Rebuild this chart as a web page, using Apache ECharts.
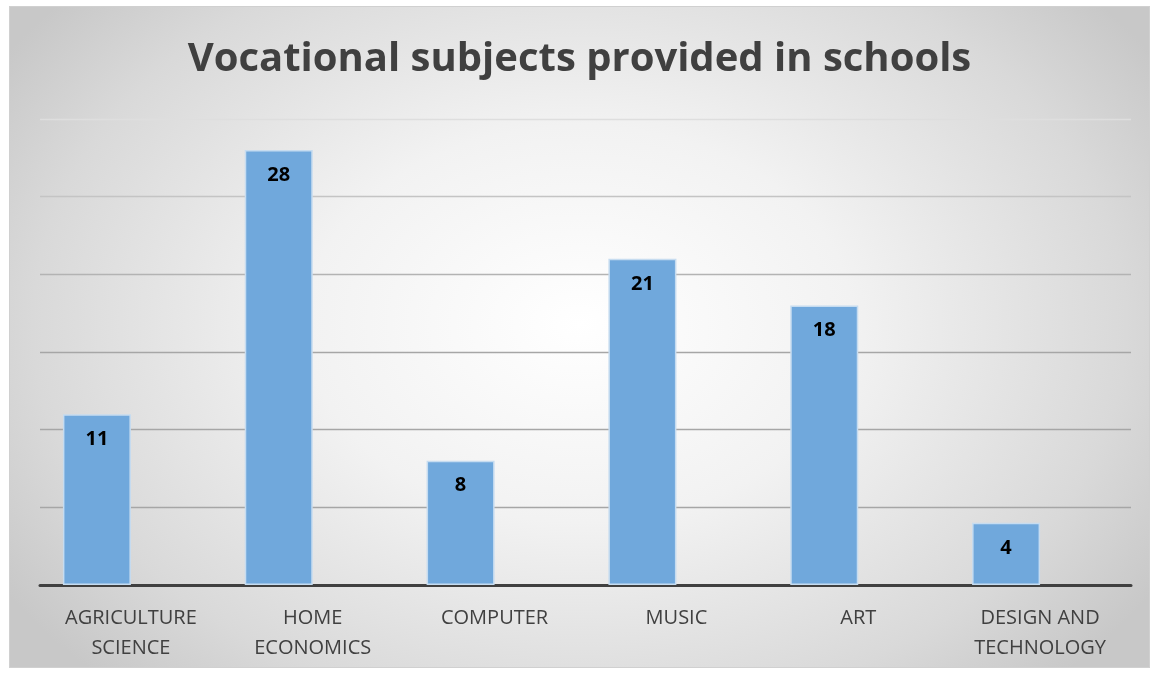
<!DOCTYPE html>
<html>
<head>
<meta charset="utf-8">
<script src="https://cdn.jsdelivr.net/npm/echarts@6/dist/echarts.min.js"></script>
<style>
  html, body { margin: 0; padding: 0; background: #ffffff; }
  #chart {
    position: absolute;
    left: 9px; top: 6px;
    width: 1141px; height: 662px;
    box-sizing: border-box;
    border: 1px solid #d0d0d0;
    background: radial-gradient(ellipse 60% 75% at 50% 48%, #ffffff 0%, #f2f2f2 40%, #d9d9d9 80%, #c8c8c8 100%);
  }
</style>
</head>
<body>
<div id="chart"></div>
<script>
const titleText = 'Vocational subjects provided in schools';
const categories = ['AGRICULTURE\nSCIENCE', 'HOME\nECONOMICS', 'COMPUTER', 'MUSIC', 'ART', 'DESIGN AND\nTECHNOLOGY'];
const counts = [11, 28, 8, 21, 18, 4];
// second, empty series of the cluster: keeps the drawn bar in the left slot of each band
const emptySlot = [null, null, null, null, null, null];
const gridLineColors = ['#bfbfbf', '#a6a6a6', '#a6a6a6', '#a6a6a6', '#b3b3b3', '#c4c4c4', '#dedede'];

const chart = echarts.init(document.getElementById('chart'), null, { renderer: 'canvas' });
chart.setOption({
  backgroundColor: 'transparent',
  title: {
    text: titleText,
    left: 'center',
    top: 28,
    textStyle: {
      fontFamily: 'Open Sans',
      fontWeight: 'bold',
      fontSize: 40,
      color: '#404040'
    }
  },
  grid: { left: 30, right: 18, top: 112, bottom: 82 },
  xAxis: {
    type: 'category',
    data: categories,
    axisTick: { show: false },
    axisLine: { lineStyle: { color: '#404040', width: 3 } },
    axisLabel: {
      margin: 18,
      fontFamily: 'Open Sans',
      fontSize: 20,
      lineHeight: 30,
      color: '#404040'
    }
  },
  yAxis: {
    type: 'value',
    min: 0,
    max: 30,
    interval: 5,
    axisLabel: { show: false },
    axisLine: { show: false },
    axisTick: { show: false },
    splitLine: { lineStyle: { color: gridLineColors, width: 1.3 } }
  },
  series: [{
    type: 'bar',
    data: counts,
    barWidth: 68,
    barGap: '0%',
    itemStyle: {
      color: '#70a8dc',
      borderColor: '#c6dcf0',
      borderWidth: 1.5
    },
    label: {
      show: true,
      position: 'insideTop',
      distance: 15,
      fontFamily: 'Open Sans',
      fontWeight: 'bold',
      fontSize: 20,
      color: '#000000'
    }
  }, {
    type: 'bar',
    data: emptySlot,
    barWidth: 68,
    barGap: '0%',
    silent: true
  }]
});
</script>
</body>
</html>
